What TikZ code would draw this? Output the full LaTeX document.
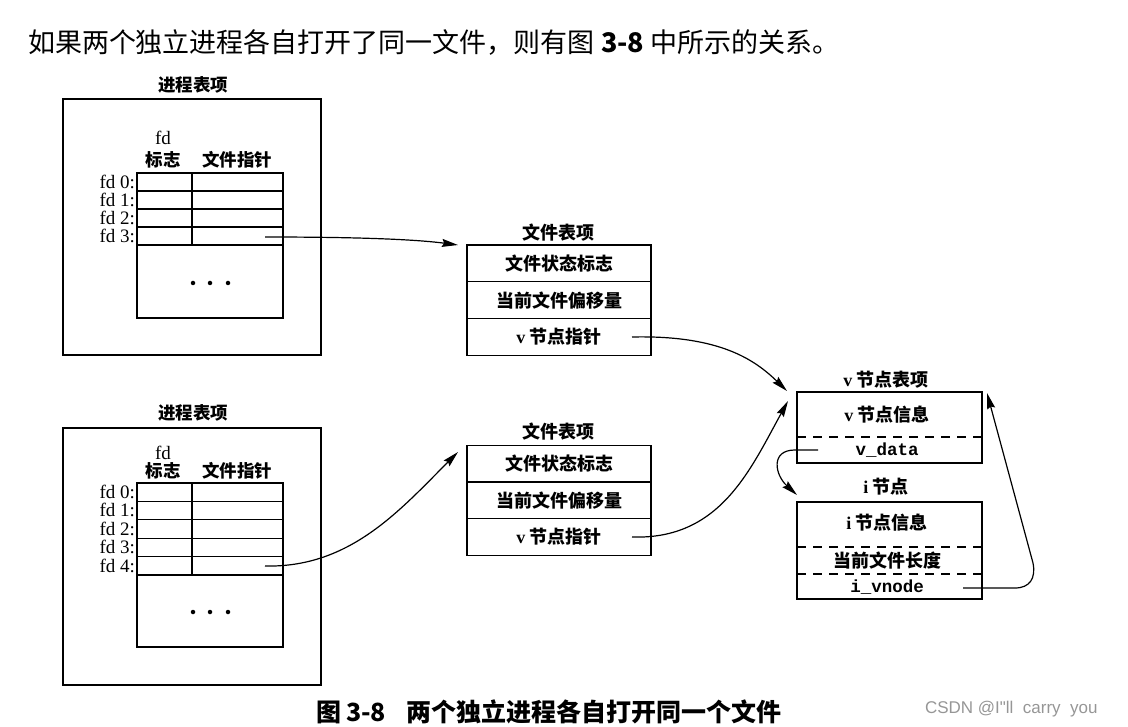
\documentclass[tikz,border=0pt]{standalone}
\usepackage{fontspec}
\setmainfont{Liberation Serif}
\setmonofont{Liberation Mono}
\newfontfamily\cjk{Noto Sans CJK SC}
\newfontfamily\wmfont{Liberation Sans}
\usetikzlibrary{arrows.meta}
\newcommand\zhb[1]{{\cjk\bfseries #1}}
\definecolor{wmgray}{RGB}{150,150,150}
\begin{document}
\begin{tikzpicture}[x=1pt,y=-1pt,
  every node/.style={inner sep=0pt, outer sep=0pt},
  box/.style={draw, line width=1.3pt},
  ln/.style={line width=1.1pt},
  rowbox/.style={draw, line width=1.3pt, minimum width=184pt, minimum height=36.7pt},
  lbl/.style={font=\fontsize{17.5}{19}\selectfont},
  lbm/.style={font=\fontsize{18}{19}\selectfont},
  fdf/.style={font=\fontsize{19}{20}\selectfont, anchor=east},
  mono/.style={font=\fontsize{17.5}{19}\selectfont\ttfamily\bfseries},
  arr/.style={line width=1.2pt, -{Stealth[length=16pt,width=8pt,inset=2pt]}},
  dsh/.style={line width=1.2pt, dash pattern=on 9pt off 7pt},
  dot/.style={circle, fill=black, minimum size=4.5pt}
]
\useasboundingbox (0,0) rectangle (1128,727);

% top sentence
\node[anchor=west, font=\fontsize{27}{29}\selectfont] (intro) at (28,42)
  {\cjk 如果两个独立进程各自打开了同一文件，则有图 {\bfseries 3-8} 中所示的关系。};

% ---------- process table 1 ----------
\node[lbl] (pt1t) at (193,85) {\zhb{进程表项}};
\node[box, minimum width=258pt, minimum height=256pt] (pt1) at (192,227) {};
\node[font=\fontsize{19}{20}\selectfont] (fd1h) at (163,138) {fd};
\node[lbl] (fl1) at (163,160) {\zhb{标志}};
\node[lbl] (fp1) at (237,160) {\zhb{文件指针}};
\draw[ln] (137,173) rectangle (283,318);
\foreach \y in {191,209,227,245} \draw[ln] (137,\y) -- (283,\y);
\draw[ln] (192,173) -- (192,245);
\foreach \i/\y in {0/182,1/200,2/218,3/236} \node[fdf] (fa\i) at (135,\y) {fd \i:};
\foreach \x [count=\k] in {193,210,228} \node[dot] (da\k) at (\x,283) {};

% ---------- process table 2 ----------
\node[lbl] (pt2t) at (193,413) {\zhb{进程表项}};
\node[box, minimum width=258pt, minimum height=257pt] (pt2) at (192,556.5) {};
\node[font=\fontsize{19}{20}\selectfont] (fd2h) at (163,453) {fd};
\node[lbl] (fl2) at (163,471) {\zhb{标志}};
\node[lbl] (fp2) at (237,471) {\zhb{文件指针}};
\draw[ln] (137,483) rectangle (283,647);
\foreach \y in {501.4,519.8,538.2,556.6,575} \draw[ln] (137,\y) -- (283,\y);
\draw[ln] (192,483) -- (192,575);
\foreach \i/\y in {0/492,1/510,2/529,3/547,4/566} \node[fdf] (fb\i) at (135,\y) {fd \i:};
\foreach \x [count=\k] in {193,210,228} \node[dot] (db\k) at (\x,612) {};

% ---------- file table 1 ----------
\node[lbm] (ft1t) at (558,233) {\zhb{文件表项}};
\node[rowbox, lbm] (ft1a) at (559,263.5) {\zhb{文件状态标志}};
\node[rowbox, lbm] (ft1b) at (559,300.2) {\zhb{当前文件偏移量}};
\node[rowbox, lbm] (ft1c) at (559,336.9) {{\bfseries v} \zhb{节点指针}};

% ---------- file table 2 ----------
\node[lbm] (ft2t) at (558,432) {\zhb{文件表项}};
\node[rowbox, lbm] (ft2a) at (559,463.5) {\zhb{文件状态标志}};
\node[rowbox, lbm] (ft2b) at (559,500.2) {\zhb{当前文件偏移量}};
\node[rowbox, lbm] (ft2c) at (559,536.9) {{\bfseries v} \zhb{节点指针}};

% ---------- v-node ----------
\node[lbm] (vnt) at (886,380) {{\bfseries v} \zhb{节点表项}};
\node[box, minimum width=185pt, minimum height=71pt] (vn) at (889.5,427.5) {};
\draw[dsh] (vn.west |- 0,437) -- (vn.east |- 0,437);
\node[lbm] (vni) at (887,415) {{\bfseries v} \zhb{节点信息}};
\node[mono] (vnd) at (887,450) {v\_data};

% ---------- i-node ----------
\node[lbm] (int) at (886,487) {{\bfseries i} \zhb{节点}};
\node[box, minimum width=185pt, minimum height=97pt] (in) at (889.5,550.5) {};
\draw[dsh] (in.west |- 0,547) -- (in.east |- 0,547);
\draw[dsh] (in.west |- 0,574) -- (in.east |- 0,574);
\node[lbm] (ini) at (887,523) {{\bfseries i} \zhb{节点信息}};
\node[lbm] (inl) at (887,560.5) {\zhb{当前文件长度}};
\node[mono] (inv) at (887,587) {i\_vnode};

% ---------- connector end points ----------
\coordinate (s1) at (265,237);  \coordinate (t1) at (458,245);
\coordinate (s2) at (265,566);  \coordinate (t2) at (458,452);
\coordinate (s3) at (632,337);  \coordinate (t3) at (787,391);
\coordinate (s4) at (632,537);  \coordinate (t4) at (788,401);
\coordinate (s5) at (818,450);  \coordinate (t5) at (797,495);
\coordinate (s6) at (963,588);  \coordinate (t6) at (987,393);

\draw[arr] (s1) .. controls (370,237) and (420,240) .. (t1);
\draw[arr] (s2) .. controls (350,568) and (400,510) .. (t2);
\draw[arr] (s3) .. controls (720,335) and (755,360) .. (t3);
\draw[arr] (s4) .. controls (720,540) and (750,470) .. (t4);
\draw[arr] (s5) -- (795,450) .. controls (770,450) and (775,475) .. (t5);
\draw[arr] (s6) -- (1015,588) .. controls (1030,588) and (1036,578) .. (1033,563) -- (t6);

% ---------- caption & watermark ----------
\node[font=\fontsize{25}{27}\selectfont] (cap) at (549,712)
  {\cjk\bfseries 图\,3-8\hspace{20pt}两个独立进程各自打开同一个文件};
\node[anchor=west, font=\fontsize{17}{19}\selectfont, text=wmgray] (wm) at (925,709)
  {\wmfont CSDN @I\symbol{34}ll\ \ carry\ \ you};
\end{tikzpicture}
\end{document}
